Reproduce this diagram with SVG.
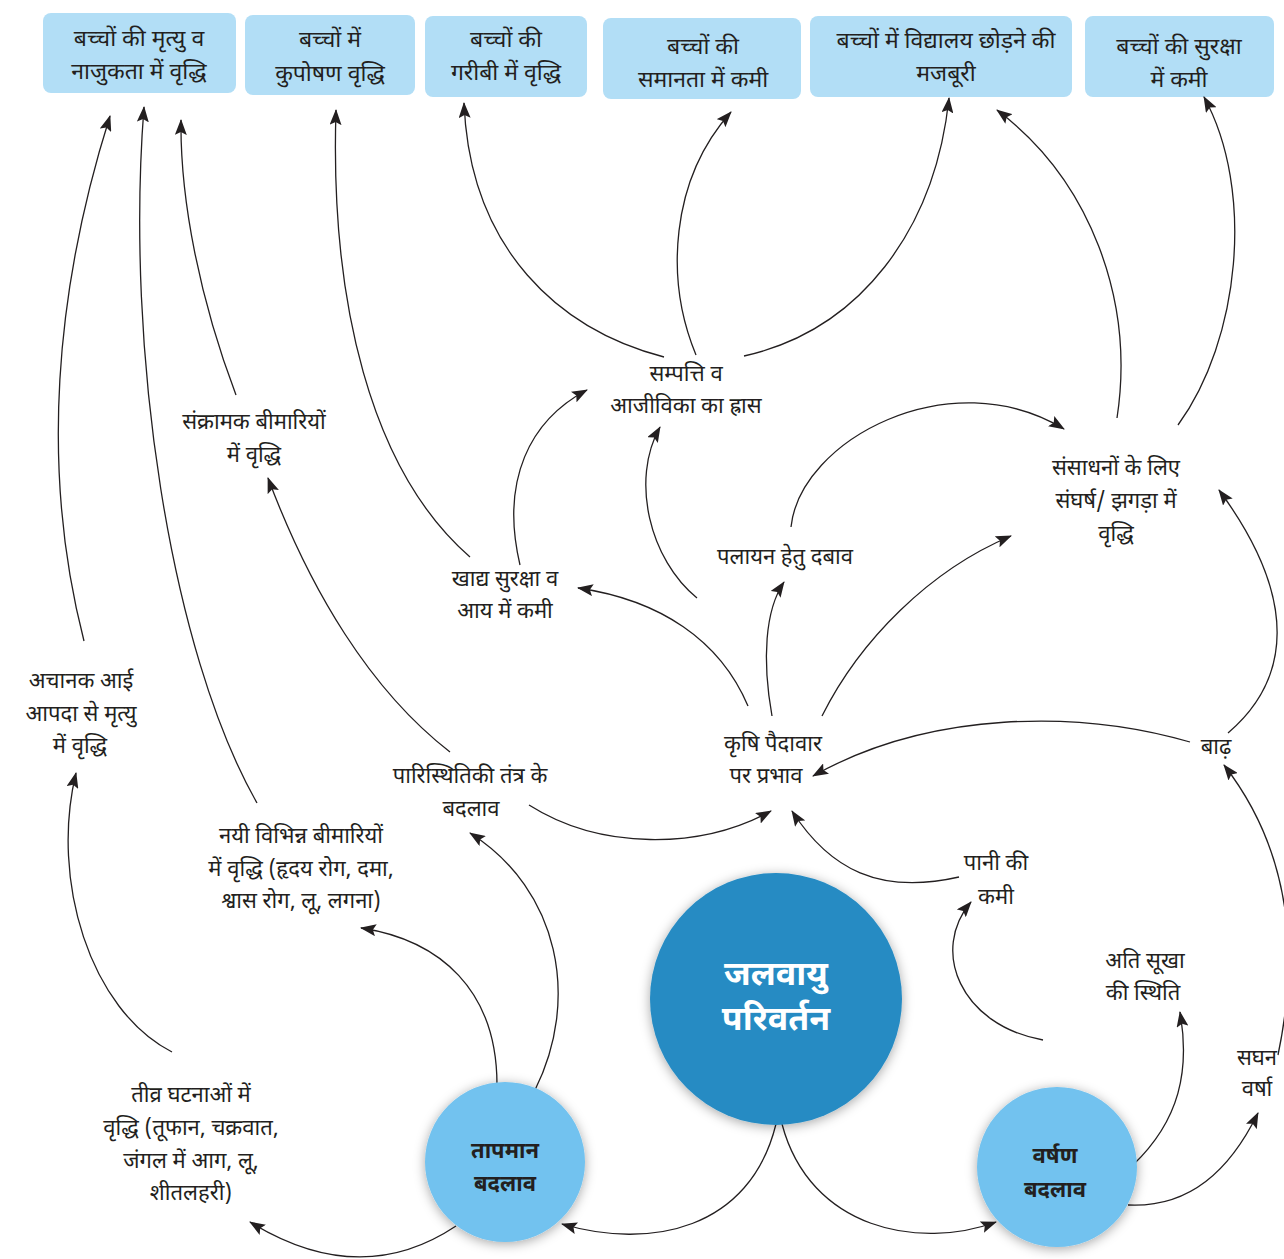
<svg xmlns="http://www.w3.org/2000/svg" width="1284" height="1259" viewBox="0 0 1284 1259">
  <style>
    .box { fill: #b2def6; }
    .lbl { font-family: "Noto Sans Devanagari", "Noto Sans", "Lohit Devanagari", sans-serif; font-size: 22px; fill: #231f20; text-anchor: middle; }
    .hd { font-size: 23px; }
    .cl { font-family: "Noto Sans Devanagari", "Noto Sans", sans-serif; font-weight: bold; text-anchor: middle; }
    .edge { fill: none; stroke: #231f20; stroke-width: 1.3; marker-end: url(#arr); }
  </style>
  <defs>
    <marker id="arr" markerUnits="userSpaceOnUse" markerWidth="16" markerHeight="12" viewBox="0 0 16 12" refX="15" refY="6" orient="auto">
      <path d="M0,0 L16,6 L0,12 L3,6 Z" fill="#231f20"/>
    </marker>
    <filter id="sh" x="-20%" y="-20%" width="140%" height="140%">
      <feDropShadow dx="0" dy="2" stdDeviation="6" flood-color="#000" flood-opacity="0.35"/>
    </filter>
  </defs>

  <!-- outcome boxes along the top -->
  <g id="n-mortality"><rect class="box" x="43" y="13" width="193" height="80" rx="8"/>
    <text class="lbl hd" x="139" y="46">बच्चों की मृत्यु व</text><text class="lbl hd" x="139" y="79">नाजुकता में वृद्धि</text></g>
  <g id="n-malnutrition"><rect class="box" x="245" y="15" width="170" height="80" rx="8"/>
    <text class="lbl hd" x="330" y="47">बच्चों में</text><text class="lbl hd" x="330" y="81">कुपोषण वृद्धि</text></g>
  <g id="n-poverty"><rect class="box" x="425" y="16" width="162" height="81" rx="8"/>
    <text class="lbl hd" x="506" y="47">बच्चों की</text><text class="lbl hd" x="506" y="80">गरीबी में वृद्धि</text></g>
  <g id="n-equality"><rect class="box" x="603" y="18" width="198" height="81" rx="8"/>
    <text class="lbl hd" x="703" y="54">बच्चों की</text><text class="lbl hd" x="703" y="87">समानता में कमी</text></g>
  <g id="n-dropout"><rect class="box" x="810" y="16" width="262" height="81" rx="8"/>
    <text class="lbl hd" x="946" y="48">बच्चों में विद्यालय छोड़ने की</text><text class="lbl hd" x="946" y="81">मजबूरी</text></g>
  <g id="n-safety"><rect class="box" x="1085" y="16" width="189" height="81" rx="8"/>
    <text class="lbl hd" x="1179" y="54">बच्चों की सुरक्षा</text><text class="lbl hd" x="1179" y="87">में कमी</text></g>

  <!-- intermediate effects -->
  <g id="n-infectious"><text class="lbl" x="254" y="429">संक्रामक बीमारियों</text><text class="lbl" x="254" y="462">में वृद्धि</text></g>
  <g id="n-assets"><text class="lbl" x="686" y="381">सम्पत्ति व</text><text class="lbl" x="686" y="413">आजीविका का ह्रास</text></g>
  <g id="n-food"><text class="lbl" x="505" y="586">खाद्य सुरक्षा व</text><text class="lbl" x="505" y="618">आय में कमी</text></g>
  <g id="n-migration"><text class="lbl" x="785" y="564">पलायन हेतु दबाव</text></g>
  <g id="n-conflict"><text class="lbl" x="1116" y="475">संसाधनों के लिए</text><text class="lbl" x="1116" y="508">संघर्ष/ झगड़ा में</text><text class="lbl" x="1116" y="541">वृद्धि</text></g>
  <g id="n-agri"><text class="lbl" x="773" y="751">कृषि पैदावार</text><text class="lbl" x="766" y="783">पर प्रभाव</text></g>
  <g id="n-flood"><text class="lbl" x="1216" y="754">बाढ़</text></g>
  <g id="n-ecosystem"><text class="lbl" x="470" y="783">पारिस्थितिकी तंत्र के</text><text class="lbl" x="471" y="816">बदलाव</text></g>
  <g id="n-disaster"><text class="lbl" x="81" y="688">अचानक आई</text><text class="lbl" x="81" y="721">आपदा से मृत्यु</text><text class="lbl" x="80" y="753">में वृद्धि</text></g>
  <g id="n-diseases"><text class="lbl" x="301" y="843">नयी विभिन्न बीमारियों</text><text class="lbl" x="301" y="876">में वृद्धि (हृदय रोग, दमा,</text><text class="lbl" x="301" y="908">श्वास रोग, लू, लगना)</text></g>
  <g id="n-water"><text class="lbl" x="996" y="870">पानी की</text><text class="lbl" x="996" y="904">कमी</text></g>
  <g id="n-drought"><text class="lbl" x="1145" y="968">अति सूखा</text><text class="lbl" x="1143" y="1000">की स्थिति</text></g>
  <g id="n-heavyrain"><text class="lbl" x="1257" y="1065">सघन</text><text class="lbl" x="1257" y="1096">वर्षा</text></g>
  <g id="n-extreme"><text class="lbl" x="191" y="1102">तीव्र घटनाओं में</text><text class="lbl" x="191" y="1135">वृद्धि (तूफान, चक्रवात,</text><text class="lbl" x="191" y="1168">जंगल में आग, लू,</text><text class="lbl" x="191" y="1200">शीतलहरी)</text></g>

  <!-- connectors -->
  <g id="connectors">
    <path class="edge" d="M84,641 C40,470 55,290 110,116"/>
    <path class="edge" d="M257,803 C170,650 125,350 144,107"/>
    <path class="edge" d="M236,395 C200,300 180,200 181,120"/>
    <path class="edge" d="M450,752 C370,690 310,590 268,478"/>
    <path class="edge" d="M470,557 C370,470 330,300 336,110"/>
    <path class="edge" d="M520,565 C500,480 530,420 587,390"/>
    <path class="edge" d="M664,357 C560,330 470,250 464,103"/>
    <path class="edge" d="M696,355 C665,280 670,180 731,112"/>
    <path class="edge" d="M744,356 C860,330 935,230 949,98"/>
    <path class="edge" d="M1117,418 C1135,300 1090,180 997,110"/>
    <path class="edge" d="M1178,425 C1240,340 1255,190 1204,97"/>
    <path class="edge" d="M791,527 C800,440 950,360 1064,429"/>
    <path class="edge" d="M748,706 C720,640 660,600 578,588"/>
    <path class="edge" d="M697,598 C650,560 630,480 660,427"/>
    <path class="edge" d="M772,716 C762,660 765,610 784,582"/>
    <path class="edge" d="M822,716 C860,640 930,570 1011,536"/>
    <path class="edge" d="M1190,742 C1080,710 930,710 813,776"/>
    <path class="edge" d="M1228,733 C1290,680 1300,600 1219,490"/>
    <path class="edge" d="M529,805 C600,850 700,850 771,811"/>
    <path class="edge" d="M959,877 C880,895 830,870 792,811"/>
    <path class="edge" d="M1043,1040 C960,1025 930,950 971,902"/>
    <path class="edge" d="M1133,1165 C1180,1120 1190,1070 1180,1012"/>
    <path class="edge" d="M1278,1055 C1300,950 1290,850 1224,765"/>
    <path class="edge" d="M1128,1205 C1190,1208 1230,1170 1258,1113"/>
    <path class="edge" d="M776,1124 C750,1230 650,1250 562,1224"/>
    <path class="edge" d="M782,1124 C810,1230 920,1250 996,1222"/>
    <path class="edge" d="M456,1226 C390,1270 320,1265 250,1222"/>
    <path class="edge" d="M172,1052 C90,1010 50,880 76,773"/>
    <path class="edge" d="M497,1085 C497,990 440,940 361,928"/>
    <path class="edge" d="M535,1090 C580,1000 560,890 470,833"/>
  </g>

  <!-- source circles -->
  <g id="n-climate">
    <circle cx="776" cy="999" r="126" fill="#268bc3" filter="url(#sh)"/>
    <text class="cl" x="776" y="985" font-size="34" fill="#fff">जलवायु</text>
    <text class="cl" x="776" y="1030" font-size="34" fill="#fff">परिवर्तन</text>
  </g>
  <g id="n-temperature">
    <circle cx="505" cy="1162" r="80" fill="#72c2ef" filter="url(#sh)"/>
    <text class="cl" x="505" y="1158" font-size="22" fill="#231f20">तापमान</text>
    <text class="cl" x="505" y="1191" font-size="22" fill="#231f20">बदलाव</text>
  </g>
  <g id="n-precipitation">
    <circle cx="1057" cy="1167" r="80" fill="#72c2ef" filter="url(#sh)"/>
    <text class="cl" x="1055" y="1163" font-size="22" fill="#231f20">वर्षण</text>
    <text class="cl" x="1055" y="1197" font-size="22" fill="#231f20">बदलाव</text>
  </g>
</svg>
